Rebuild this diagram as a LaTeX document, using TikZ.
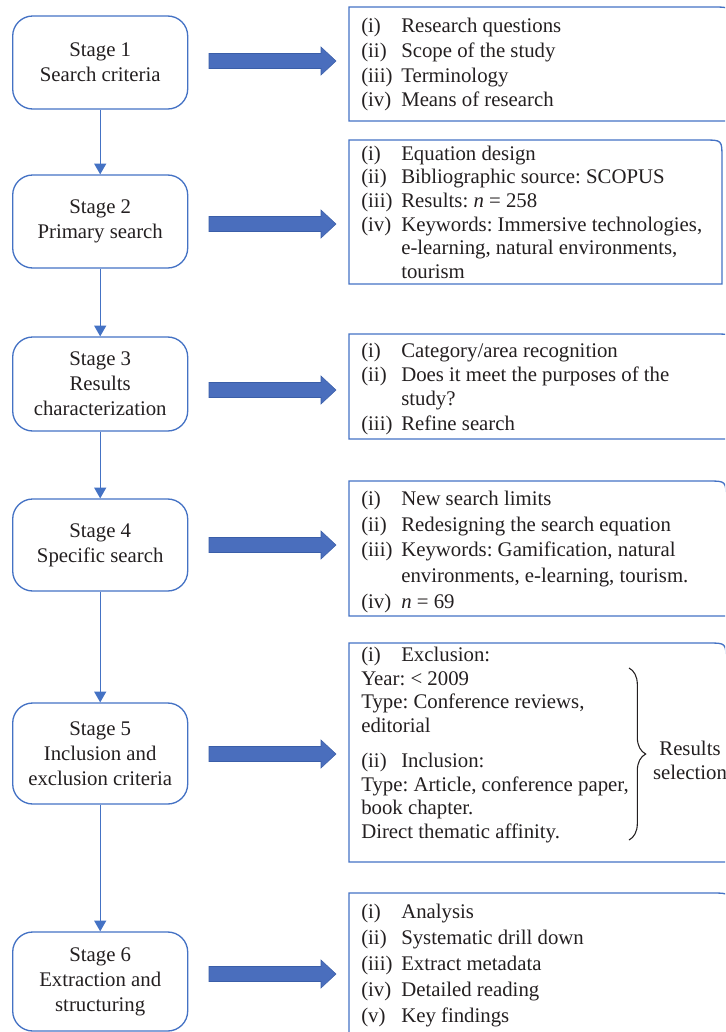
\documentclass[tikz,border=0pt]{standalone}
\usepackage{fontspec}
\setmainfont{Liberation Serif}
\frenchspacing
\usetikzlibrary{arrows.meta,decorations.pathreplacing}
\definecolor{bl}{HTML}{4472C4}
\definecolor{arf}{HTML}{4A6EBD}
\definecolor{are}{HTML}{3A5EA8}
\definecolor{tx}{HTML}{231F20}
\begin{document}
\begin{tikzpicture}[x=0.75pt,y=-0.75pt,
  stage/.style={draw=bl, line width=1pt, rounded corners=15pt, minimum width=131.25pt,
    align=center, font=\fontsize{15.6}{18.75}\selectfont\frenchspacing, text=tx, inner sep=0pt},
  info/.style={anchor=north west, inner sep=0pt, text=tx, font=\fontsize{15.6}{#1}\selectfont\frenchspacing},
  ibox/.style={draw=bl, line width=1pt},
  vline/.style={draw=bl, line width=0.8pt, -{Triangle[width=9pt,length=8pt]}},
  bracestyle/.style={draw=tx, line width=0.8pt, decorate, decoration={brace, amplitude=12.5pt}},
  barrow/.pic={\filldraw[fill=arf, draw=are, line width=0.4pt]
     (-63.5,-7.5) -- (48.5,-7.5) -- (48.5,-14) -- (63.5,0) -- (48.5,14) -- (48.5,7.5) -- (-63.5,7.5) -- cycle;}
]
\useasboundingbox (0,0) rectangle (725,1032);
\clip (0,0) rectangle (725,1032);

% stage boxes
\node[stage, minimum height=69.75pt] (s1) at (100.2,62.5) {Stage 1\\Search criteria};
\node[stage, minimum height=69.75pt] (s2) at (100.2,221.5) {Stage 2\\Primary search};
\node[stage, minimum height=70.5pt] (s3) at (100.2,384) {Stage 3\\Results\\characterization};
\node[stage, minimum height=69pt] (s4) at (100.2,545) {Stage 4\\Specific search};
\node[stage, minimum height=75.75pt] (s5) at (100.2,753.5) {Stage 5\\Inclusion and\\exclusion criteria};
\node[stage, minimum height=74.25pt] (s6) at (100.2,981.5) {Stage 6\\Extraction and\\structuring};

\draw[vline] (s1.south) -- (s2.north);
\draw[vline] (s2.south) -- (s3.north);
\draw[vline] (s3.south) -- (s4.north);
\draw[vline] (s4.south) -- (s5.north);
\draw[vline] (s5.south) -- (s6.north);

% block arrows
\pic at (272.5,61) {barrow};
\pic at (272.5,224) {barrow};
\pic at (272.5,390) {barrow};
\pic at (272.5,545) {barrow};
\pic at (272.5,754) {barrow};
\pic at (272.5,974) {barrow};

% info boxes
\draw[ibox] (349,121) -- (349,7) -- (713,7) .. controls (731,7) .. (731,25) -- (731,121) -- cycle;
\draw[ibox] (349,284) -- (349,140) -- (704,140) .. controls (722,140) .. (722,158) -- (722,284) -- cycle;
\draw[ibox] (349,439) -- (349,334) -- (715,334) .. controls (733,334) .. (733,352) -- (733,439) -- cycle;
\draw[ibox] (349,616) -- (349,481) -- (708,481) .. controls (726,481) .. (726,499) -- (726,616) -- cycle;
\draw[ibox] (349,862) -- (349,643) -- (708,643) .. controls (726,643) .. (726,661) -- (726,862) -- cycle;
\draw[ibox] (349,1040) -- (349,893) -- (712,893) .. controls (730,893) .. (730,911) -- (730,1040);

\node[info=18.5pt] (t1) at (361,15.2) {\begin{tabular}{@{}p{30pt}@{}l@{}}
(i) & Research questions\\
(ii) & Scope of the study\\
(iii) & Terminology\\
(iv) & Means of research
\end{tabular}};

\node[info=17.7pt] (t2) at (361,143.5) {\begin{tabular}{@{}p{30pt}@{}l@{}}
(i) & Equation design\\
(ii) & Bibliographic source: SCOPUS\\
(iii) & Results: \textit{n} = 258\\
(iv) & Keywords: Immersive technologies,\\
 & e-learning, natural environments,\\
 & tourism
\end{tabular}};

\node[info=18.2pt] (t3) at (361,340) {\begin{tabular}{@{}p{30pt}@{}l@{}}
(i) & Category/area recognition\\
(ii) & Does it meet the purposes of the\\
 & study?\\
(iii) & Refine search
\end{tabular}};

\node[info=19.3pt] (t4) at (361,487) {\begin{tabular}{@{}p{30pt}@{}l@{}}
(i) & New search limits\\
(ii) & Redesigning the search equation\\
(iii) & Keywords: Gamification, natural\\
 & environments, e-learning, tourism.\\
(iv) & \textit{n} = 69
\end{tabular}};

\node[info=17.8pt] (t5) at (361,644.5) {\begin{tabular}{@{}p{30pt}@{}l@{}}
(i) & Exclusion:\\
\multicolumn{2}{@{}l@{}}{Year: < 2009}\\
\multicolumn{2}{@{}l@{}}{Type: Conference reviews,}\\
\multicolumn{2}{@{}l@{}}{editorial}\\[8.25pt]
(ii) & Inclusion:\\
\multicolumn{2}{@{}l@{}}{Type: Article, conference paper,}\\
\multicolumn{2}{@{}l@{}}{book chapter.}\\
\multicolumn{2}{@{}l@{}}{Direct thematic affinity.}
\end{tabular}};

\node[info=19.5pt] (t6) at (361,900) {\begin{tabular}{@{}p{30pt}@{}l@{}}
(i) & Analysis\\
(ii) & Systematic drill down\\
(iii) & Extract metadata\\
(iv) & Detailed reading\\
(v) & Key findings
\end{tabular}};

% brace
\coordinate (b1) at (629,668);
\coordinate (b2) at (629,840);
\draw[bracestyle] (b1) -- (b2);
\node[align=center, text=tx, inner sep=0pt, font=\fontsize{15.6}{18}\selectfont] (rs) at (690,760) {Results\\selection};
\end{tikzpicture}
\end{document}
